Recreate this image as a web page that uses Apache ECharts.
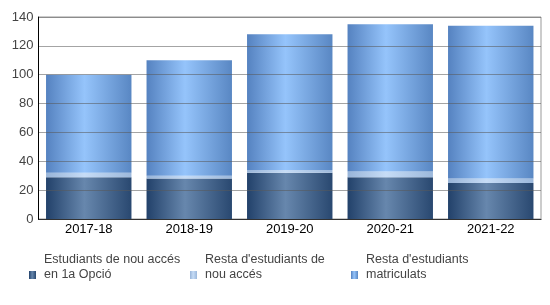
<!DOCTYPE html>
<html>
<head>
<meta charset="utf-8">
<script src="https://cdn.jsdelivr.net/npm/echarts@6/dist/echarts.min.js"></script>
<style>
html,body{margin:0;padding:0;background:#fff;}
#chart{width:550px;height:305px;}
</style>
</head>
<body>
<div id="chart"></div>
<script>
const categories = ['2017-18', '2018-19', '2019-20', '2020-21', '2021-22'];
const nouAcces1a = [29, 28, 32, 29, 25];
const restaNouAcces = [3, 2, 2, 4, 3];
const restaMatriculats = [68, 80, 94, 102, 106];
const seriesNames = ['Estudiants de nou accés en 1a Opció', "Resta d'estudiants de nou accés", "Resta d'estudiants matriculats"];
const legendLabels = ['Estudiants de nou accés\nen 1a Opció', "Resta d'estudiants de\nnou accés", "Resta d'estudiants\nmatriculats"];
const yTicks = [0, 20, 40, 60, 80, 100, 120, 140];

function grad(edgeL, mid, edgeR) {
  return new echarts.graphic.LinearGradient(0, 0, 1, 0, [
    {offset: 0, color: edgeL},
    {offset: 0.45, color: mid},
    {offset: 1, color: edgeR}
  ]);
}
const colors = [
  grad('#22416a', '#6787ad', '#294870'),
  grad('#98b4d8', '#c6dcf6', '#9cb8db'),
  grad('#5582c0', '#95c4fb', '#5987c3')
];
const dataSets = [nouAcces1a, restaNouAcces, restaMatriculats];

const chart = echarts.init(document.getElementById('chart'));
chart.setOption({
  animation: false,
  grid: {left: 38.5, right: 9, top: 17, bottom: 86, show: true, borderColor: '#999', borderWidth: 1, containLabel: false},
  xAxis: {
    type: 'category',
    data: categories,
    axisLine: {lineStyle: {color: '#000', width: 1}},
    axisTick: {show: false},
    axisLabel: {color: '#000', fontSize: 13, fontFamily: 'Liberation Sans, Arial, sans-serif', margin: 4}
  },
  yAxis: {
    type: 'value',
    min: yTicks[0], max: yTicks[yTicks.length - 1], interval: 20,
    z: 10,
    axisLine: {show: true, lineStyle: {color: '#000', width: 1}},
    axisTick: {show: false},
    splitLine: {lineStyle: {color: 'rgba(90,90,90,0.55)', width: 1}},
    axisLabel: {color: '#444', fontSize: 13, fontFamily: 'Liberation Sans, Arial, sans-serif', margin: 5}
  },
  legend: {
    left: 29, top: 252.5, padding: 0,
    itemWidth: 7, itemHeight: 8, itemGap: 0,
    icon: 'rect',
    data: seriesNames,
    formatter: function (name) { return legendLabels[seriesNames.indexOf(name)] + '\n\u00a0'; },
    textStyle: {color: '#444', fontSize: 12.5, fontFamily: 'Liberation Sans, Arial, sans-serif', width: 146, lineHeight: 15, padding: [0, 0, 0, 3]}
  },
  series: dataSets.map((d, i) => ({
    name: seriesNames[i],
    type: 'bar',
    stack: 'total',
    data: d,
    barCategoryGap: '15%',
    itemStyle: {color: colors[i]}
  }))
});
</script>
</body>
</html>
